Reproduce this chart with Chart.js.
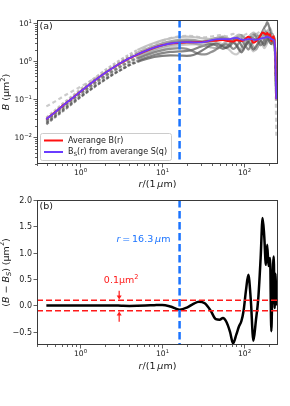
<!DOCTYPE html>
<html lang="en">
<head>
<meta charset="UTF-8">
<title>B(r) and B - B_S</title>
<style>
  html, body { margin: 0; padding: 0; background: #fff; }
  body { width: 290px; height: 406px; position: relative; overflow: hidden; }
  .panel { position: absolute; left: 0; }
  #top { top: 0; }
  #bot { top: 190px; }
</style>
</head>
<body>
<div class="panel" id="top"><canvas id="cTop" width="290" height="200"></canvas></div>
<div class="panel" id="bot"><canvas id="cBot" width="290" height="216"></canvas></div>

<script src="https://cdn.jsdelivr.net/npm/chart.js@4.4.0/dist/chart.umd.min.js"></script>
<script>
// r in units of 1 um
const r = [
  0.39, 0.5, 0.63, 0.8, 1.0, 1.26, 1.6, 2.0, 2.5, 3.2,
  4.0, 5.0, 6.3, 8.0, 10, 12.6, 16.3, 20, 24, 28,
  33, 39, 45, 50, 55, 60, 67, 73, 80, 86,
  92, 98, 105, 112, 120, 129, 138, 148, 158, 167,
  175, 183, 190, 197, 206, 213, 220, 228, 234, 239,
  245
];

// B_S(r) from averaged S(q)
const bS = [
  0.030, 0.046, 0.070, 0.105, 0.155, 0.23, 0.34, 0.48, 0.66, 0.92,
  1.20, 1.50, 1.85, 2.25, 2.60, 2.90, 3.10, 3.15, 3.10, 3.10,
  3.20, 3.50, 3.70, 3.80, 3.80, 3.75, 3.80, 4.00, 4.10, 3.90,
  3.70, 3.60, 3.70, 3.80, 3.80, 3.70, 3.60, 3.70, 3.90, 4.00,
  4.10, 4.20, 4.30, 4.20, 4.10, 3.80, 3.70, 3.60, 3.00, 1.00,
  0.10
];

// averaged B(r)
const bAvg = [
  0.030, 0.046, 0.070, 0.105, 0.155, 0.23, 0.34, 0.48, 0.66, 0.915,
  1.19, 1.49, 1.85, 2.25, 2.61, 2.88, 3.02, 3.11, 3.13, 3.17,
  3.24, 3.40, 3.44, 3.53, 3.56, 3.45, 3.30, 3.28, 3.55, 3.50,
  3.40, 3.50, 4.00, 4.38, 3.90, 3.03, 3.30, 3.84, 4.80, 5.66,
  5.40, 4.97, 5.45, 4.95, 5.00, 3.31, 4.10, 4.53, 2.95, 1.60,
  0.10
];

// B - B_S
const diff = [
  0, 0, 0, 0, 0, 0, 0, 0, 0, -0.005,
  -0.008, -0.006, -0.002, 0.005, 0.01, -0.02, -0.08, -0.04, 0.03, 0.07,
  0.04, -0.10, -0.26, -0.27, -0.24, -0.30, -0.50, -0.72, -0.55, -0.40,
  -0.30, -0.10, 0.30, 0.58, 0.10, -0.67, -0.30, 0.14, 0.90, 1.66,
  1.30, 0.77, 1.15, 0.75, 0.90, -0.49, 0.40, 0.93, -0.05, 0.60,
  0.00
];

// individual samples B(r)
const g1 = [
  0.065, 0.088, 0.12, 0.16, 0.21, 0.28, 0.38, 0.50, 0.66, 0.90,
  1.20, 1.60, 2.30, 2.80, 3.40, 4.00, 4.50, 4.60, 4.50, 4.30,
  4.20, 4.40, 4.60, 4.80, 4.70, 4.50, 4.80, 5.20, 5.00, 4.60,
  4.40, 4.70, 5.10, 5.40, 5.00, 4.60, 5.00, 5.60, 6.00, 5.80,
  6.50, 7.20, 6.80, 6.00, 5.50, 5.00, 4.80, 4.20, 3.50, 0.60,
  0.010
];
const g2 = [
  0.024, 0.036, 0.054, 0.080, 0.115, 0.165, 0.24, 0.33, 0.45, 0.60,
  0.78, 0.95, 1.12, 1.28, 1.38, 1.42, 1.40, 1.38, 1.45, 1.70,
  2.10, 2.60, 2.90, 2.70, 2.40, 2.20, 2.50, 3.00, 2.60, 2.00,
  1.70, 2.00, 2.80, 3.20, 2.60, 2.00, 2.40, 3.00, 3.40, 3.00,
  2.60, 3.30, 4.00, 3.60, 3.00, 2.80, 3.20, 3.00, 2.60, 0.80,
  0.10
];
const g3 = [
  0.028, 0.043, 0.065, 0.097, 0.14, 0.20, 0.29, 0.40, 0.54, 0.74,
  0.95, 1.18, 1.42, 1.70, 1.92, 2.10, 2.20, 2.10, 1.80, 1.55,
  1.50, 1.70, 2.00, 2.30, 2.60, 2.80, 2.50, 2.10, 2.40, 3.00,
  3.40, 3.00, 2.40, 2.00, 2.60, 3.40, 3.80, 3.20, 2.60, 2.90,
  3.60, 4.40, 5.00, 4.20, 3.60, 4.00, 4.50, 3.80, 3.00, 0.90,
  0.12
];
const g4 = [
  0.030, 0.047, 0.072, 0.108, 0.16, 0.24, 0.36, 0.50, 0.70, 0.98,
  1.30, 1.65, 2.05, 2.50, 2.95, 3.30, 3.60, 3.70, 3.60, 3.40,
  3.20, 3.30, 3.60, 3.90, 4.20, 4.00, 3.60, 3.30, 3.80, 4.40,
  4.80, 4.40, 3.80, 3.40, 3.90, 4.60, 5.20, 4.60, 4.00, 4.40,
  5.20, 6.00, 5.40, 4.60, 4.20, 4.80, 5.20, 4.20, 3.40, 1.00,
  0.10
];
const g5 = [
  0.026, 0.040, 0.060, 0.090, 0.13, 0.19, 0.28, 0.39, 0.54, 0.76,
  1.00, 1.28, 1.60, 1.98, 2.35, 2.65, 2.90, 3.00, 2.90, 2.70,
  2.50, 2.30, 2.20, 2.40, 2.80, 3.20, 3.60, 3.40, 2.80, 2.20,
  1.90, 2.20, 2.90, 3.60, 3.20, 2.40, 2.00, 2.50, 3.30, 4.00,
  3.50, 2.80, 3.20, 4.40, 5.00, 4.20, 3.40, 3.60, 2.80, 0.70,
  0.09
];
const g6 = [
  0.022, 0.034, 0.050, 0.075, 0.11, 0.16, 0.23, 0.32, 0.44, 0.60,
  0.80, 1.00, 1.22, 1.45, 1.62, 1.75, 1.80, 1.85, 2.00, 2.30,
  2.60, 2.80, 2.60, 2.30, 2.10, 2.30, 2.90, 3.50, 3.90, 3.40,
  2.60, 2.20, 2.60, 3.20, 4.20, 5.00, 4.40, 3.60, 4.60, 6.00,
  7.50, 8.80, 10.5, 9.00, 6.50, 4.50, 3.50, 4.40, 3.20, 0.90,
  0.10
];
const g7 = [
  0.033, 0.052, 0.080, 0.12, 0.18, 0.27, 0.40, 0.57, 0.80, 1.12,
  1.50, 1.95, 2.45, 3.00, 3.50, 3.95, 4.30, 4.40, 4.30, 4.10,
  3.90, 3.80, 4.00, 4.30, 4.50, 4.20, 3.80, 4.00, 4.60, 5.00,
  4.60, 4.00, 3.60, 4.20, 5.00, 5.60, 5.00, 4.40, 5.00, 6.20,
  6.80, 6.00, 5.40, 6.50, 7.40, 6.20, 5.00, 4.50, 3.40, 0.90,
  0.10
];
const g8 = [
  0.025, 0.038, 0.058, 0.087, 0.128, 0.185, 0.27, 0.37, 0.51, 0.70,
  0.92, 1.18, 1.48, 1.82, 2.12, 2.40, 2.60, 2.70, 2.75, 2.80,
  2.90, 3.00, 3.10, 3.00, 2.70, 2.30, 1.90, 1.60, 1.50, 1.70,
  2.20, 2.80, 3.20, 2.80, 2.20, 1.80, 2.00, 2.60, 3.00, 2.60,
  2.20, 2.50, 3.00, 3.50, 3.20, 2.80, 3.00, 2.60, 2.20, 0.50,
  0.09
];
const g9 = [
  0.027, 0.042, 0.064, 0.096, 0.14, 0.21, 0.31, 0.44, 0.61, 0.85,
  1.13, 1.45, 1.80, 2.20, 2.60, 3.00, 3.30, 3.40, 3.30, 3.20,
  3.40, 3.70, 4.00, 4.20, 4.00, 3.60, 3.30, 3.60, 4.20, 4.60,
  4.20, 3.60, 3.20, 3.60, 4.40, 4.00, 3.40, 3.90, 4.80, 5.50,
  5.00, 4.40, 5.20, 6.20, 5.60, 4.40, 4.00, 3.80, 3.00, 0.80,
  0.10
];

const rCross = 16.3;
const tol = 0.1;
const diffTicks = [-0.5, 0, 0.5, 1.0, 1.5, 2.0];

const samples = [
  { data: g1, color: 'rgba(190,190,190,0.8)', dashed: true },
  { data: g2, color: 'rgba(85,85,85,0.75)' },
  { data: g3, color: 'rgba(110,110,110,0.75)' },
  { data: g4, color: 'rgba(135,135,135,0.75)' },
  { data: g5, color: 'rgba(155,155,155,0.75)' },
  { data: g6, color: 'rgba(95,95,95,0.75)' },
  { data: g7, color: 'rgba(175,175,175,0.75)' },
  { data: g8, color: 'rgba(185,185,185,0.75)' },
  { data: g9, color: 'rgba(120,120,120,0.75)' }
];

const FONT = '"DejaVu Sans"';
const FRAME = '#3a3a3a';
const INK = '#1a1a1a';
const BLUE = '#1a73ff';
const PURPLE = '#6a3cff';
Chart.defaults.font.family = 'DejaVu Sans';

function pts(ys) {
  return r.map((x, i) => ({ x: x, y: ys[i] }));
}

// text made of parts: {t, i: italic, s: 'sup'|'sub'}
function rich(ctx, parts, x, y, size, color, align, rot) {
  ctx.save();
  ctx.translate(x, y);
  if (rot) ctx.rotate(rot);
  ctx.fillStyle = color;
  ctx.textBaseline = 'middle';
  ctx.textAlign = 'left';
  const fontOf = p => (p.i ? 'italic ' : '') + (p.s ? size * 0.7 : size) + 'px ' + FONT;
  let w = 0;
  parts.forEach(p => { ctx.font = fontOf(p); p.w = ctx.measureText(p.t).width; w += p.w; });
  let cx = align === 'center' ? -w / 2 : align === 'right' ? -w : 0;
  parts.forEach(p => {
    ctx.font = fontOf(p);
    const dy = p.s === 'sup' ? -size * 0.4 : p.s === 'sub' ? size * 0.28 : 0;
    ctx.fillText(p.t, cx, dy);
    cx += p.w;
  });
  ctx.restore();
}

function powParts(e) {
  return [{ t: '10' }, { t: (e < 0 ? '−' : '') + Math.abs(e), s: 'sup' }];
}

function drawFrame(ctx, a) {
  ctx.save();
  ctx.strokeStyle = FRAME;
  ctx.lineWidth = 1;
  ctx.strokeRect(Math.round(a.left) + 0.5, Math.round(a.top) + 0.5,
    Math.round(a.right - a.left) - 1, Math.round(a.bottom - a.top) - 1);
  ctx.restore();
}

// log ticks plus 10^n labels
function logAxis(ctx, scale, horizontal, edge) {
  ctx.save();
  ctx.strokeStyle = FRAME;
  ctx.lineWidth = 0.8;
  for (let e = -3; e <= 3; e++) {
    for (let s = 1; s <= 9; s++) {
      const v = s * Math.pow(10, e);
      if (v < scale.min || v > scale.max) continue;
      const p = Math.round(scale.getPixelForValue(v)) + 0.5;
      const len = s === 1 ? 3.5 : 2;
      ctx.beginPath();
      if (horizontal) { ctx.moveTo(p, edge); ctx.lineTo(p, edge + len); }
      else { ctx.moveTo(edge, p); ctx.lineTo(edge - len, p); }
      ctx.stroke();
      if (s === 1) {
        if (horizontal) rich(ctx, powParts(e), p, edge + 9.5, 7.6, INK, 'center');
        else rich(ctx, powParts(e), edge - 5, p + 1, 7.6, INK, 'right');
      }
    }
  }
  ctx.restore();
}

function vDash(ctx, chart, x, color) {
  const a = chart.chartArea;
  const px = chart.scales.x.getPixelForValue(x);
  ctx.save();
  ctx.beginPath();
  ctx.rect(a.left, a.top, a.right - a.left, a.bottom - a.top);
  ctx.clip();
  ctx.strokeStyle = color;
  ctx.lineWidth = 2.5;
  ctx.setLineDash([7.5, 3.5]);
  ctx.beginPath();
  ctx.moveTo(px, a.top);
  ctx.lineTo(px, a.bottom);
  ctx.stroke();
  ctx.restore();
}

const xTitle = [{ t: 'r', i: true }, { t: '/(1\u2009' }, { t: 'μ', i: true }, { t: 'm)' }];

function xScale(height) {
  return {
    type: 'logarithmic',
    min: 0.343,
    max: 257,
    grid: { display: false },
    border: { display: false },
    ticks: { display: false },
    afterFit: s => { s.height = height; }
  };
}

// ---------- panel (a) ----------
const topDatasets = [
  { data: pts(bS), borderColor: PURPLE, borderWidth: 1.8, order: 0 },
  { data: pts(bAvg), borderColor: '#ff1010', borderWidth: 2, order: 1 }
];
samples.forEach((s, k) => {
  topDatasets.push({
    data: pts(s.data),
    borderColor: s.color,
    borderWidth: 2.2,
    order: 2 + k,
    segment: {
      borderDash: ctx => s.dashed ? [4, 3]
        : (ctx.p1.parsed.x <= 5 || ctx.p0.parsed.x >= 234 ? [3, 2] : undefined)
    }
  });
});

const topPlugin = {
  id: 'panelA',
  afterDatasetsDraw(chart) {
    vDash(chart.ctx, chart, rCross, BLUE);
  },
  afterDraw(chart) {
    const ctx = chart.ctx, a = chart.chartArea;
    drawFrame(ctx, a);
    logAxis(ctx, chart.scales.x, true, a.bottom);
    logAxis(ctx, chart.scales.y, false, a.left);
    rich(ctx, [{ t: '(a)' }], a.left + 2.5, a.top + 7, 9.5, INK, 'left');
    rich(ctx, [{ t: 'B', i: true }, { t: ' (μm' }, { t: '2', s: 'sup' }, { t: ')' }],
      7, (a.top + a.bottom) / 2, 9.5, INK, 'center', -Math.PI / 2);
    rich(ctx, xTitle, (a.left + a.right) / 2, a.bottom + 21, 9.5, INK, 'center');

    // legend
    const lx = a.left + 3, ly = a.bottom - 31;
    ctx.save();
    ctx.fillStyle = 'rgba(255,255,255,0.85)';
    ctx.strokeStyle = '#cccccc';
    ctx.lineWidth = 1;
    ctx.beginPath();
    ctx.roundRect(lx + 0.5, ly + 0.5, 131, 27, 2);
    ctx.fill();
    ctx.stroke();
    ctx.lineWidth = 2;
    ctx.strokeStyle = '#ff1010';
    ctx.beginPath(); ctx.moveTo(lx + 4, ly + 7.5); ctx.lineTo(lx + 23, ly + 7.5); ctx.stroke();
    ctx.strokeStyle = PURPLE;
    ctx.beginPath(); ctx.moveTo(lx + 4, ly + 19); ctx.lineTo(lx + 23, ly + 19); ctx.stroke();
    ctx.restore();
    rich(ctx, [{ t: 'Averange B(r)' }], lx + 28, ly + 7.5, 8, INK, 'left');
    rich(ctx, [{ t: 'B' }, { t: 'S', s: 'sub' }, { t: '(r) from averange S(q)' }], lx + 28, ly + 19, 8, INK, 'left');
  }
};

new Chart(document.getElementById('cTop'), {
  type: 'line',
  data: { datasets: topDatasets },
  options: {
    responsive: false,
    animation: false,
    events: [],
    devicePixelRatio: 1,
    layout: { padding: { top: 20, right: 12, left: 0, bottom: 0 } },
    elements: { point: { radius: 0 }, line: { cubicInterpolationMode: 'monotone', fill: false } },
    plugins: { legend: { display: false }, tooltip: { enabled: false } },
    scales: {
      x: xScale(36),
      y: {
        type: 'logarithmic',
        min: 0.002,
        max: 12,
        grid: { display: false },
        border: { display: false },
        ticks: { display: false },
        afterFit: s => { s.width = 37; }
      }
    }
  },
  plugins: [topPlugin]
});

// ---------- panel (b) ----------
function arrow(ctx, chart, x, yFrom, yTo, color) {
  const px = chart.scales.x.getPixelForValue(x);
  const p0 = chart.scales.y.getPixelForValue(yFrom);
  const p1 = chart.scales.y.getPixelForValue(yTo);
  const dir = p1 > p0 ? 1 : -1;
  ctx.save();
  ctx.strokeStyle = color;
  ctx.fillStyle = color;
  ctx.lineWidth = 1.2;
  ctx.beginPath();
  ctx.moveTo(px, p0);
  ctx.lineTo(px, p1 - dir * 3);
  ctx.stroke();
  ctx.beginPath();
  ctx.moveTo(px, p1);
  ctx.lineTo(px - 2.5, p1 - dir * 4);
  ctx.lineTo(px + 2.5, p1 - dir * 4);
  ctx.closePath();
  ctx.fill();
  ctx.restore();
}

const botPlugin = {
  id: 'panelB',
  afterDatasetsDraw(chart) {
    const ctx = chart.ctx, a = chart.chartArea, ys = chart.scales.y;
    ctx.save();
    ctx.strokeStyle = '#ff1a1a';
    ctx.lineWidth = 1.5;
    ctx.setLineDash([6, 3]);
    [tol, -tol].forEach(v => {
      const p = ys.getPixelForValue(v);
      ctx.beginPath();
      ctx.moveTo(a.left, p);
      ctx.lineTo(a.right, p);
      ctx.stroke();
    });
    ctx.restore();
    vDash(ctx, chart, rCross, BLUE);
    arrow(ctx, chart, 3.0, 0.28, 0.115, '#ff1a1a');
    arrow(ctx, chart, 3.0, -0.31, -0.115, '#ff1a1a');
  },
  afterDraw(chart) {
    const ctx = chart.ctx, a = chart.chartArea, xs = chart.scales.x, ys = chart.scales.y;
    drawFrame(ctx, a);
    logAxis(ctx, xs, true, a.bottom);
    ctx.save();
    ctx.strokeStyle = FRAME;
    ctx.lineWidth = 0.8;
    diffTicks.forEach(v => {
      const p = Math.round(ys.getPixelForValue(v)) + 0.5;
      ctx.beginPath(); ctx.moveTo(a.left, p); ctx.lineTo(a.left - 3.5, p); ctx.stroke();
      rich(ctx, [{ t: (v < 0 ? '−' : '') + Math.abs(v).toFixed(1) }], a.left - 5, p, 8, INK, 'right');
    });
    ctx.restore();
    rich(ctx, [{ t: '(b)' }], a.left + 2.5, a.top + 7, 9.5, INK, 'left');
    rich(ctx, [{ t: '(' }, { t: 'B', i: true }, { t: ' − ' }, { t: 'B', i: true }, { t: 'S', i: true, s: 'sub' },
      { t: ') (μm' }, { t: '2', s: 'sup' }, { t: ')' }],
      6.5, (a.top + a.bottom) / 2, 9.5, INK, 'center', -Math.PI / 2);
    rich(ctx, xTitle, (a.left + a.right) / 2, a.bottom + 21.5, 9.5, INK, 'center');
    rich(ctx, [{ t: 'r', i: true }, { t: '\u2009=\u200916.3\u2009' }, { t: 'μ', i: true }, { t: 'm' }],
      xs.getPixelForValue(12.6), ys.getPixelForValue(1.25), 9.5, BLUE, 'right');
    rich(ctx, [{ t: '0.1μm' }, { t: '2', s: 'sup' }],
      xs.getPixelForValue(3.0) + 2, ys.getPixelForValue(0.47), 9.5, '#ff1a1a', 'center');
  }
};

new Chart(document.getElementById('cBot'), {
  type: 'line',
  data: {
    datasets: [{ data: pts(diff), borderColor: '#000', borderWidth: 2.5 }]
  },
  options: {
    responsive: false,
    animation: false,
    events: [],
    devicePixelRatio: 1,
    layout: { padding: { top: 10, right: 12, left: 0, bottom: 0 } },
    elements: { point: { radius: 0 }, line: { cubicInterpolationMode: 'monotone', fill: false } },
    plugins: { legend: { display: false }, tooltip: { enabled: false } },
    scales: {
      x: xScale(61),
      y: {
        type: 'linear',
        min: -0.75,
        max: 2.0,
        grid: { display: false },
        border: { display: false },
        ticks: { display: false },
        afterFit: s => { s.width = 37; }
      }
    }
  },
  plugins: [botPlugin]
});
</script>
</body>
</html>
